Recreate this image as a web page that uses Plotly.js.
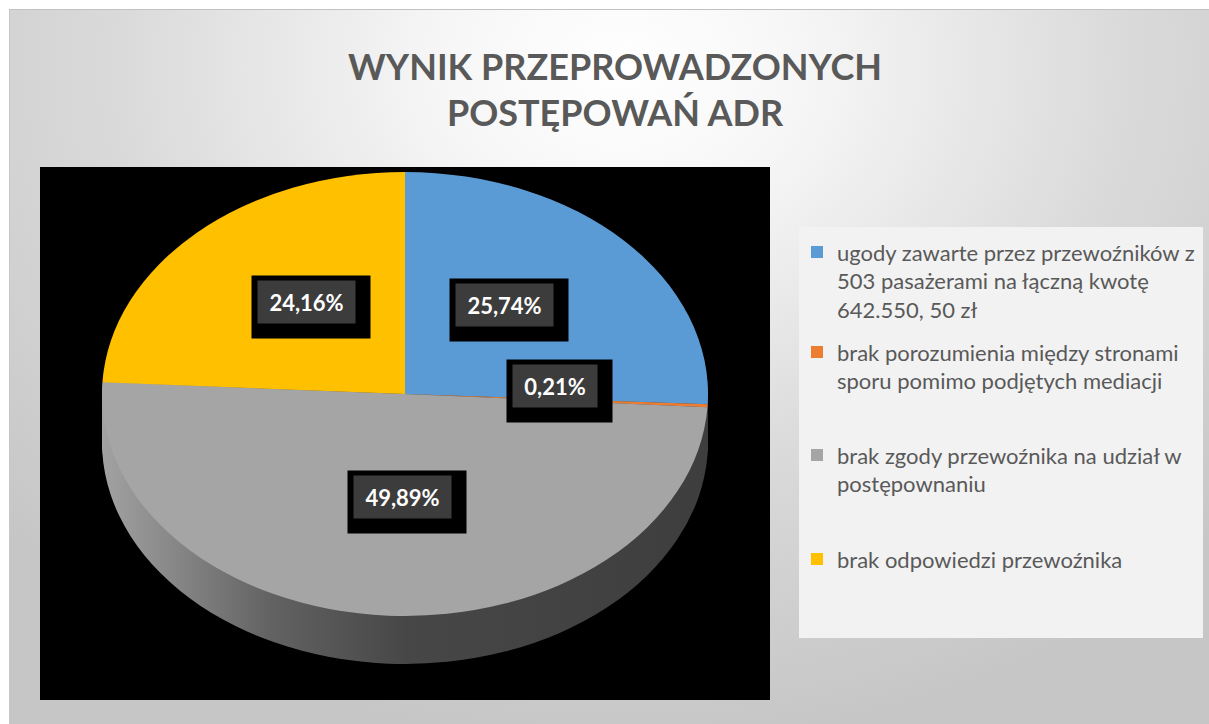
<!DOCTYPE html>
<html>
<head>
<meta charset="utf-8">
<script src="https://cdn.plot.ly/plotly-3.0.1.min.js"></script>
<style>
  html, body { margin:0; padding:0; background:#ffffff; }
  #wrap { position:relative; width:1209px; height:724px; overflow:hidden; background:#ffffff; }
  #panel { position:absolute; left:9px; top:9px; width:1200px; height:715px;
    background: radial-gradient(ellipse 70% 95% at 51% 8%, #ffffff 0%, #f6f6f6 22%, #dadada 60%, #c6c6c6 100%);
    border-top:1px solid #c2c2c2; border-left:1px solid #c8c8c8; box-sizing:border-box; }
  #chart { position:absolute; left:0; top:0; width:1209px; height:724px; }
</style>
</head>
<body>
<div id="wrap"><div id="panel"></div><div id="chart"></div></div>
<script>
// ---- data ----
const categories = [
  "ugody zawarte przez przewoźników z<br>503 pasażerami na łączną kwotę<br>642.550, 50 zł",
  "brak porozumienia między stronami<br>sporu pomimo podjętych mediacji",
  "brak zgody przewoźnika na udział w<br>postępownaniu",
  "brak odpowiedzi przewoźnika"
];
const shares = [25.74, 0.21, 49.89, 24.16];
const sliceColors = ["#5B9BD5", "#ED7D31", "#A5A5A5", "#FFC000"];
const chartTitle = "WYNIK PRZEPROWADZONYCH<br>POSTĘPOWAŃ ADR";

// ---- layout helpers (pixel -> paper) ----
const W = 1209, H = 724;
const px = x => x / W;
const py = y => 1 - y / H;

// pie geometry (pixels): face ellipse centre, radii, depth
const CX = 405, CY = 394, RX = 303, RY = 222, DEPTH = 48;
const S = RY / RX;

// legend labels padded to equal height slots (4 lines)
const legendLabels = categories.map(c => {
  const n = c.split("<br>").length;
  let s = c;
  for (let i = n; i < 4; i++) s += "<br>\u00a0";
  return s;
});
const legendSymbolY = [252, 352, 455, 559];

const domain = { x: [px(CX - RX), px(CX + RX)], y: [py(CY + RX), py(CY - RX)] };

const traces = [];
const SIDE_LAYERS = 12;
for (let k = 1; k <= SIDE_LAYERS; k++) {
  traces.push({
    type: "pie", values: shares, labels: legendLabels, sort: false,
    direction: "clockwise", rotation: 0, domain: domain,
    marker: { colors: shares.map(() => "#4a4a4a"), line: { width: 0 } },
    textinfo: "none", hoverinfo: "skip", showlegend: false
  });
}
traces.push({
  type: "pie", values: shares, labels: legendLabels, sort: false,
  direction: "clockwise", rotation: 0, domain: domain,
  marker: { colors: sliceColors, line: { width: 0 } },
  textinfo: "none", hoverinfo: "skip", showlegend: true
});

// label boxes (outer black box top-left, inner box width)
const labelBoxes = [
  { ox: 449, oy: 278, w: 97 },
  { ox: 506, oy: 359, w: 84 },
  { ox: 347, oy: 470, w: 97 },
  { ox: 251, oy: 275, w: 97 }
];
const annotations = [];
shares.forEach((v, i) => {
  const b = labelBoxes[i];
  annotations.push({
    xref: "paper", yref: "paper", x: px(b.ox), y: py(b.oy), xanchor: "left", yanchor: "top",
    text: " ", showarrow: false, width: b.w + 21, height: 62, bgcolor: "#000000", borderpad: 0,
    font: { size: 10, color: "#000" }
  });
  annotations.push({
    xref: "paper", yref: "paper", x: px(b.ox + 6), y: py(b.oy + 5), xanchor: "left", yanchor: "top",
    text: "<b>" + v.toFixed(2).replace(".", ",") + "%</b>", showarrow: false,
    width: b.w, height: 42, bgcolor: "#3c3c3c", borderpad: 0, align: "center", valign: "middle",
    font: { family: "Lato, 'Open Sans', sans-serif", size: 22, color: "#ffffff" }
  });
});

const layout = {
  width: W, height: H,
  margin: { l: 0, r: 0, t: 0, b: 0 },
  paper_bgcolor: "rgba(0,0,0,0)", plot_bgcolor: "rgba(0,0,0,0)",
  font: { family: "Lato, 'Open Sans', sans-serif", color: "#595959" },
  title: {
    text: "<b>" + chartTitle + "</b>",
    x: 615 / W, xanchor: "center", y: 1 - 79.5 / H, yanchor: "middle", yref: "container",
    font: { family: "Lato, 'Open Sans', sans-serif", size: 36, color: "#595959" }
  },
  showlegend: true,
  legend: {
    x: px(797), xanchor: "left", y: py(232), yanchor: "top",
    bgcolor: "rgba(0,0,0,0)", valign: "top",
    font: { family: "Lato, 'Open Sans', sans-serif", size: 22, color: "#595959" },
    itemclick: false, itemdoubleclick: false
  },
  shapes: [
    { type: "rect", xref: "paper", yref: "paper", x0: px(40), x1: px(770), y0: py(700), y1: py(167),
      fillcolor: "#000000", line: { width: 0 }, layer: "below" },
    { type: "rect", xref: "paper", yref: "paper", x0: px(799), x1: px(1203), y0: py(638), y1: py(227),
      fillcolor: "#f2f2f2", line: { width: 0 }, layer: "below" }
  ],
  annotations: annotations
};

Plotly.newPlot("chart", traces, layout, { displayModeBar: false, staticPlot: true }).then(gd => {
  const svg = gd.querySelector("svg.main-svg");
  const NS = "http://www.w3.org/2000/svg";
  const defs = svg.querySelector("defs");
  const grad = document.createElementNS(NS, "linearGradient");
  grad.setAttribute("id", "sideGrad");
  grad.setAttribute("gradientUnits", "userSpaceOnUse");
  grad.setAttribute("x1", CX - RX); grad.setAttribute("x2", CX + RX);
  grad.setAttribute("y1", 0); grad.setAttribute("y2", 0);
  [[0, "#a2a2a2"], [0.28, "#626262"], [0.5, "#474747"], [1, "#3e3e3e"]].forEach(([o, c]) => {
    const st = document.createElementNS(NS, "stop");
    st.setAttribute("offset", o); st.setAttribute("stop-color", c);
    grad.appendChild(st);
  });
  defs.appendChild(grad);

  const groups = svg.querySelectorAll(".pielayer g.trace");
  groups.forEach((g, i) => {
    const isSide = i < SIDE_LAYERS;
    const dy = isSide ? DEPTH * (SIDE_LAYERS - i) / SIDE_LAYERS : 0;
    g.setAttribute("transform", `matrix(1,0,0,${S},0,${CY * (1 - S) + dy})`);
    if (isSide) g.querySelectorAll("path.surface").forEach(p => { p.style.fill = "url(#sideGrad)"; });
  });

  // place legend entries into Excel-like equal slots
  const rootRect = gd.getBoundingClientRect();
  const items = gd.querySelectorAll(".legend g.traces");
  items.forEach((it, i) => {
    const sym = it.querySelector(".legendpoints path");
    if (!sym || legendSymbolY[i] === undefined) return;
    const r = sym.getBoundingClientRect();
    const cur = r.top + r.height / 2 - rootRect.top;
    const delta = legendSymbolY[i] - cur;
    const m = /translate\(\s*([-\d.e]+)[ ,]+([-\d.e]+)\s*\)/.exec(it.getAttribute("transform") || "");
    const tx = m ? parseFloat(m[1]) : 0, ty = m ? parseFloat(m[2]) : 0;
    it.setAttribute("transform", `translate(${tx},${ty + delta})`);
  });
});
</script>
</body>
</html>
